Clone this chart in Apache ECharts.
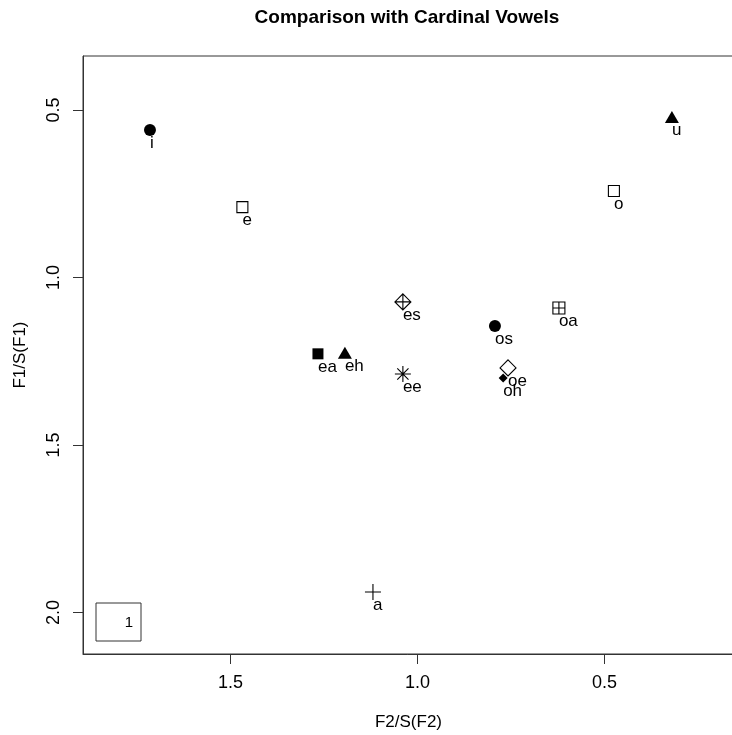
<!DOCTYPE html>
<html>
<head>
<meta charset="utf-8">
<script src="https://cdn.jsdelivr.net/npm/echarts@6/dist/echarts.min.js"></script>
<style>
  html, body { margin: 0; padding: 0; background: #fff; }
  #chart { width: 732px; height: 735px; }
</style>
</head>
<body>
<div id="chart"></div>
<script>
// Vowel positions in the normalised formant space
const vowels = ['i', 'e', 'u', 'o', 'es', 'os', 'oa', 'ea', 'eh', 'ee', 'oe', 'oh', 'a'];
const f2Norm = [1.715, 1.468, 0.320, 0.475, 1.039, 0.793, 0.622, 1.266, 1.194, 1.039, 0.758, 0.771, 1.119];
const f1Norm = [0.560, 0.790, 0.521, 0.742, 1.073, 1.145, 1.091, 1.228, 1.225, 1.288, 1.270, 1.300, 1.939];

const xTicks = [0.5, 1.0, 1.5];
const yTicks = [0.5, 1.0, 1.5, 2.0];

// Plotting symbols (R-style pch shapes)
const CLEAR = 'rgba(0,0,0,0)';
const SHAPES = {
  dot:         { symbol: 'circle', size: 12, fill: '#000', stroke: null },
  openSquare:  { symbol: 'rect', size: 11, fill: CLEAR, stroke: '#000' },
  triangle:    { symbol: 'triangle', size: [14, 12], fill: '#000', stroke: null },
  square:      { symbol: 'rect', size: 11, fill: '#000', stroke: null },
  diamondPlus: { symbol: 'path://M5,0L10,5L5,10L0,5Z M5,0L5,10 M0,5L10,5', size: 16, fill: CLEAR, stroke: '#000' },
  squarePlus:  { symbol: 'path://M0,0L10,0L10,10L0,10Z M5,0L5,10 M0,5L10,5', size: 12, fill: CLEAR, stroke: '#000' },
  asterisk:    { symbol: 'path://M5,0L5,10 M0,5L10,5 M1.5,1.5L8.5,8.5 M8.5,1.5L1.5,8.5', size: 16, fill: CLEAR, stroke: '#000' },
  openDiamond: { symbol: 'diamond', size: 16, fill: CLEAR, stroke: '#000' },
  smallDiamond:{ symbol: 'diamond', size: 9, fill: '#000', stroke: null },
  plus:        { symbol: 'path://M5,0L5,10 M0,5L10,5', size: 16, fill: CLEAR, stroke: '#000' }
};
const vowelShape = {
  i: 'dot', e: 'openSquare', u: 'triangle', o: 'openSquare',
  es: 'diamondPlus', os: 'dot', oa: 'squarePlus', ea: 'square',
  eh: 'triangle', ee: 'asterisk', oe: 'openDiamond', oh: 'smallDiamond', a: 'plus'
};

const FONT = '"Liberation Sans", Arial, Helvetica, sans-serif';

const points = vowels.map((v, k) => {
  const s = SHAPES[vowelShape[v]];
  return {
    name: v,
    value: [f2Norm[k], f1Norm[k]],
    symbol: s.symbol,
    symbolSize: s.size,
    itemStyle: {
      color: s.fill,
      opacity: 1,
      borderColor: s.stroke || CLEAR,
      borderWidth: s.stroke ? 1.1 : 0
    }
  };
});

const chart = echarts.init(document.getElementById('chart'), null, { renderer: 'canvas' });

chart.setOption({
  backgroundColor: '#fff',
  animation: false,
  grid: {
    left: 83, top: 56, right: -2, bottom: 81,
    outerBoundsMode: 'none', containLabel: false,
    show: true, borderColor: '#333', borderWidth: 1
  },
  xAxis: {
    type: 'value',
    inverse: true,
    min: 0.154, max: 1.894,
    name: 'F2/S(F2)',
    nameLocation: 'middle',
    nameGap: 60,
    nameTextStyle: { fontFamily: FONT, fontSize: 17, color: '#000' },
    axisLine: { show: true, lineStyle: { color: '#333', width: 1 } },
    axisTick: { show: true, length: 10, lineStyle: { color: '#333' }, customValues: xTicks },
    axisLabel: {
      fontFamily: FONT, fontSize: 18, color: '#000', margin: 20,
      customValues: xTicks,
      formatter: v => v.toFixed(1)
    },
    splitLine: { show: false }
  },
  yAxis: {
    type: 'value',
    inverse: true,
    min: 0.339, max: 2.124,
    name: 'F1/S(F1)',
    nameLocation: 'middle',
    nameGap: 54,
    nameTextStyle: { fontFamily: FONT, fontSize: 17, color: '#000' },
    axisLine: { show: true, lineStyle: { color: '#333', width: 1 } },
    axisTick: { show: true, length: 10, lineStyle: { color: '#333' }, customValues: yTicks },
    axisLabel: {
      fontFamily: FONT, fontSize: 18, color: '#000', margin: 20, rotate: 90,
      customValues: yTicks,
      formatter: v => v.toFixed(1)
    },
    splitLine: { show: false }
  },
  series: [{
    type: 'scatter',
    data: points,
    label: {
      show: true,
      position: 'inside',
      align: 'left',
      verticalAlign: 'middle',
      offset: [0, 13],
      formatter: p => p.name,
      fontFamily: FONT,
      fontSize: 17,
      color: '#000'
    }
  }],
  graphic: [
    {
      type: 'text',
      x: 407, y: 18,
      style: {
        text: 'Comparison with Cardinal Vowels',
        fontFamily: FONT, fontSize: 19, fontWeight: 'bold', fill: '#000',
        align: 'center', verticalAlign: 'middle'
      }
    },
    {
      type: 'rect',
      shape: { x: 96, y: 603, width: 45, height: 38 },
      style: { fill: CLEAR, stroke: '#333', lineWidth: 1 }
    },
    {
      type: 'text',
      x: 129, y: 623,
      style: {
        text: '1', fontFamily: FONT, fontSize: 15, fill: '#000',
        align: 'center', verticalAlign: 'middle'
      }
    }
  ]
});
</script>
</body>
</html>
